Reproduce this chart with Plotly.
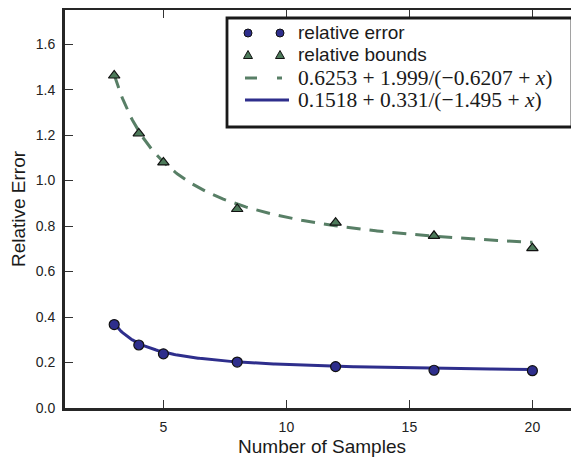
import numpy as np
import plotly.graph_objects as go

# ---- data ----
samples = [3, 4, 5, 8, 12, 16, 20]
rel_error = [0.367, 0.277, 0.238, 0.202, 0.182, 0.166, 0.164]
rel_bounds = [1.462, 1.207, 1.080, 0.875, 0.815, 0.757, 0.703]
fit_bounds = [0.6253, 1.999, -0.6207]   # a + b/(c + x)
fit_error = [0.1518, 0.331, -1.495]
x_ticks = [5, 10, 15, 20]
y_ticks = [0.0, 0.2, 0.4, 0.6, 0.8, 1.0, 1.2, 1.4, 1.6]

BLUE = "#2e2e8c"
GREEN = "#587f66"
GREEN_M = "#4d7a5a"

xs = np.linspace(min(samples), max(samples), 300)
def fitf(p, x):
    return p[0] + p[1] / (p[2] + x)

fig = go.Figure()
fig.add_trace(go.Scatter(x=xs, y=fitf(fit_bounds, xs), mode="lines",
                         line=dict(color=GREEN, width=3, dash="14px,9px"),
                         showlegend=False, hoverinfo="skip"))
fig.add_trace(go.Scatter(x=xs, y=fitf(fit_error, xs), mode="lines",
                         line=dict(color=BLUE, width=3),
                         showlegend=False, hoverinfo="skip"))
fig.add_trace(go.Scatter(x=samples, y=rel_bounds, mode="markers",
                         marker=dict(symbol="triangle-up", size=10, color=GREEN_M,
                                     line=dict(color="#111", width=1.2)),
                         showlegend=False))
fig.add_trace(go.Scatter(x=samples, y=rel_error, mode="markers",
                         marker=dict(symbol="circle", size=10, color=BLUE,
                                     line=dict(color="#111", width=1.2)),
                         showlegend=False))
# invisible trace to carry the right-hand tick axis
fig.add_trace(go.Scatter(x=[None], y=[None], yaxis="y2", showlegend=False,
                         hoverinfo="skip"))

# page body has an 8px margin, so the figure sits at (8, 8) in the window
OFF = 8
W, H = 579 - OFF, 462 - OFF
L, R, T, B = 65 - OFF, 0, 10 - OFF, 54
PW, PH = W - L - R, H - T - B

def px(x):          # window pixel -> paper x
    return (x - OFF - L) / PW

def py(y):          # window pixel -> paper y
    return (H - B - (y - OFF)) / PH

shapes = []
annos = []
shapes.append(dict(type="rect", xref="paper", yref="paper",
                   x0=px(227), x1=px(572), y0=py(127), y1=py(18),
                   line=dict(color="#1a1a1a", width=2.8), fillcolor="white", layer="above"))

rows = [33, 55, 78, 100]
m1, m2 = 248, 280
for mx in (m1, m2):
    shapes.append(dict(type="circle", xref="paper", yref="paper",
                       xsizemode="pixel", ysizemode="pixel",
                       xanchor=px(mx), yanchor=py(rows[0]),
                       x0=-4, x1=4, y0=-4, y1=4,
                       fillcolor=BLUE, line=dict(color="#111", width=1), layer="above"))
for mx in (m1, m2):
    shapes.append(dict(type="path", xref="paper", yref="paper",
                       xsizemode="pixel", ysizemode="pixel",
                       xanchor=px(mx), yanchor=py(rows[1]),
                       path="M -4.5 -3.5 L 4.5 -3.5 L 0 4.5 Z",
                       fillcolor=GREEN_M, line=dict(color="#111", width=1), layer="above"))
for a, b in ((245, 257), (277, 282)):
    shapes.append(dict(type="line", xref="paper", yref="paper",
                       x0=px(a), x1=px(b), y0=py(rows[2]), y1=py(rows[2]),
                       line=dict(color=GREEN, width=3), layer="above"))
shapes.append(dict(type="line", xref="paper", yref="paper",
                   x0=px(245), x1=px(289), y0=py(rows[3]), y1=py(rows[3]),
                   line=dict(color=BLUE, width=3), layer="above"))

labels = ["relative error", "relative bounds",
          "0.6253 + 1.999/(\u22120.6207 + <i>x</i>)",
          "0.1518 + 0.331/(\u22121.495 + <i>x</i>)"]
fonts = ["Liberation Sans", "Liberation Sans", "Liberation Serif", "Liberation Serif"]
sizes = [19, 19, 21.5, 21.5]
for lab, yy, fnt, sz in zip(labels, rows, fonts, sizes):
    annos.append(dict(xref="paper", yref="paper", x=px(296), y=py(yy),
                      xanchor="left", yanchor="middle", showarrow=False,
                      text=lab, font=dict(family=fnt, size=sz, color="#1a1a1a")))

tick_common = dict(ticks="inside", ticklen=8, tickwidth=1.3, tickcolor="#333",
                   showgrid=False, zeroline=False)
axis_common = dict(showline=True, linewidth=3, linecolor="#262626",
                   tickfont=dict(family="Liberation Sans", size=14, color="#222"),
                   title_font=dict(family="Liberation Sans", size=19, color="#1a1a1a"),
                   **tick_common)

fig.update_layout(
    width=W, height=H,
    margin=dict(l=L, r=R, t=T, b=B, autoexpand=False),
    paper_bgcolor="white", plot_bgcolor="white",
    xaxis=dict(range=[1, 1 + PW / 24.6], tickvals=x_ticks, mirror="ticks",
               title=dict(text="Number of Samples", standoff=6),
               ticklabelstandoff=4, automargin=False, **axis_common),
    yaxis=dict(range=[0, 1.75], tickvals=y_ticks, tickformat=".1f", mirror=False,
               title=dict(text="Relative Error", standoff=13),
               ticklabelstandoff=4, automargin=False, **axis_common),
    yaxis2=dict(range=[0, 1.75], tickvals=y_ticks, overlaying="y", side="right",
                showline=False, showticklabels=False, automargin=False, **tick_common),
    shapes=shapes, annotations=annos,
)

fig.write_html("out.html")
